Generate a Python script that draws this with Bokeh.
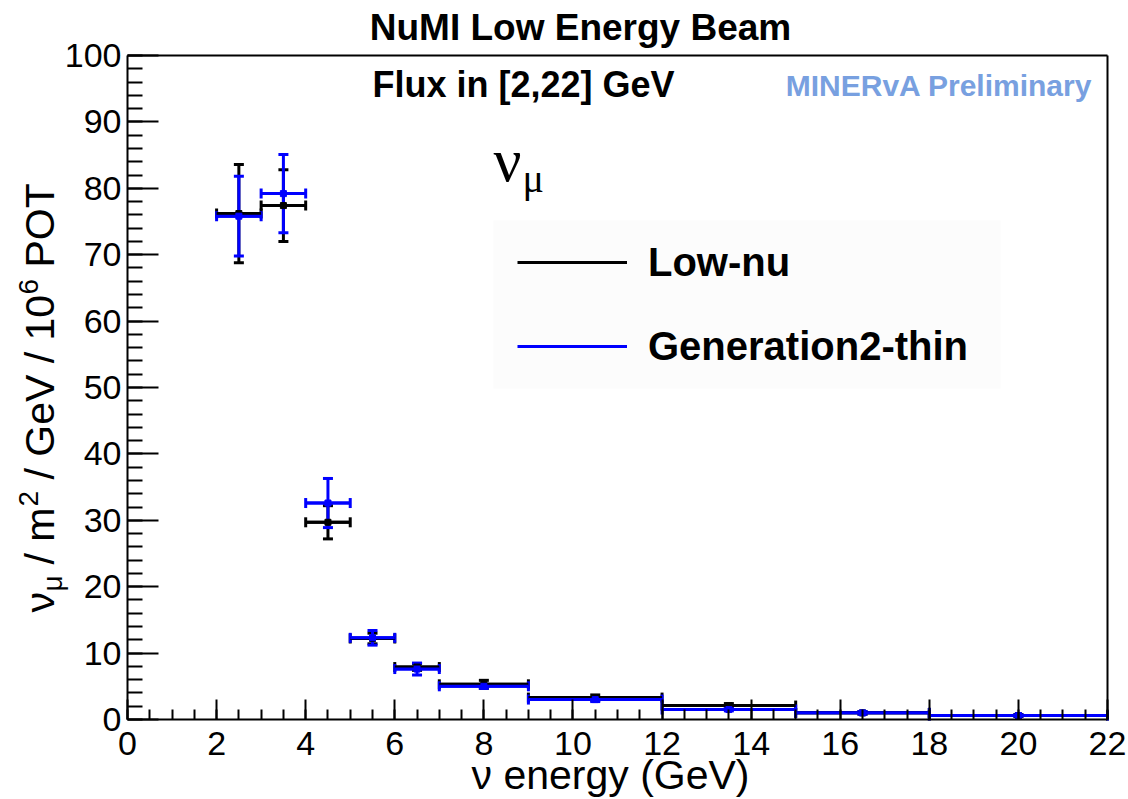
import math
from bokeh.plotting import figure
from bokeh.models import (Range1d, SingleIntervalTicker, FixedTicker, LinearAxis,
                          Whisker, TeeHead, ColumnDataSource, Label, Legend,
                          LegendItem, BoxAnnotation)
from bokeh.embed import file_html
from bokeh.resources import INLINE

# ---------------- data ----------------
bin_low = [2, 3, 4, 5, 6, 7, 9, 12, 15, 18]
bin_high = [3, 4, 5, 6, 7, 9, 12, 15, 18, 22]
lownu_flux = [76.2, 77.4, 29.7, 12.2, 7.9, 5.3, 3.3, 2.1, 1.0, 0.6]
lownu_err = [7.4, 5.4, 2.5, 0.8, 0.5, 0.6, 0.4, 0.3, 0.2, 0.15]
gen2_flux = [75.8, 79.2, 32.6, 12.3, 7.6, 5.0, 3.0, 1.5, 1.0, 0.6]
gen2_err = [6.0, 5.9, 3.7, 1.1, 0.9, 0.3, 0.3, 0.2, 0.2, 0.1]
series_names = ["Low-nu", "Generation2-thin"]
series_colors = ["#000000", "#0000ff"]

FONT = "Liberation Sans"
W, H = 1128, 799

# plotting box in pixels (layout)
FL, FR, FT, FB = 127, 1107, 55, 719
XMAX, YMAX = 22, 100


def X(px):
    return (px - FL) / (FR - FL) * XMAX


def Y(py):
    return (FB - py) / (FB - FT) * YMAX


p = figure(width=W, height=H, output_backend="svg", toolbar_location=None,
           x_range=Range1d(X(0), X(W)), y_range=Range1d(Y(H), Y(0)),
           x_axis_location=None, y_axis_location=None, min_border=0)
p.min_border_left = p.min_border_right = p.min_border_top = p.min_border_bottom = 0
p.background_fill_color = "white"
p.border_fill_color = "white"
p.outline_line_color = None
p.xgrid.visible = False
p.ygrid.visible = False


def style_axis(ax):
    ax.axis_line_color = "black"
    ax.axis_line_width = 2
    ax.major_tick_line_color = "black"
    ax.minor_tick_line_color = "black"
    ax.major_tick_line_width = 2
    ax.minor_tick_line_width = 2
    ax.major_tick_out = 0
    ax.minor_tick_out = 0
    ax.major_label_text_font = FONT
    ax.major_label_text_font_size = "34px"
    ax.major_label_text_color = "black"


xaxis = LinearAxis(fixed_location=0, bounds=(0, XMAX),
                   ticker=SingleIntervalTicker(interval=2, num_minor_ticks=4))
yaxis = LinearAxis(fixed_location=0, bounds=(0, YMAX),
                   ticker=SingleIntervalTicker(interval=10, num_minor_ticks=5))
style_axis(xaxis)
style_axis(yaxis)
xaxis.major_tick_in = 20
xaxis.minor_tick_in = 10
yaxis.major_tick_in = 31
yaxis.minor_tick_in = 15
xaxis.major_label_standoff = 12
yaxis.major_label_standoff = 6
p.add_layout(xaxis, "below")
p.add_layout(yaxis, "left")

# top and right frame lines (axes without ticks)
topaxis = LinearAxis(fixed_location=YMAX, bounds=(0, XMAX),
                     ticker=FixedTicker(ticks=[], minor_ticks=[]))
rightaxis = LinearAxis(fixed_location=XMAX, bounds=(0, YMAX),
                       ticker=FixedTicker(ticks=[], minor_ticks=[]))
for ax in (topaxis, rightaxis):
    style_axis(ax)
    ax.major_tick_in = 0
    ax.minor_tick_in = 0
p.add_layout(topaxis, "above")
p.add_layout(rightaxis, "right")

# faint legend background
p.add_layout(BoxAnnotation(left=X(493), right=X(1000), top=Y(220), bottom=Y(388),
                           fill_color="#fcfcfc", fill_alpha=1.0, line_color=None,
                           level="underlay"))

# ---------------- data marks ----------------
legend_items = []
for name, color, flux, err in zip(series_names, series_colors,
                                  [lownu_flux, gen2_flux], [lownu_err, gen2_err]):
    centers = [(a + b) / 2 for a, b in zip(bin_low, bin_high)]
    src = ColumnDataSource(dict(
        lo=bin_low, hi=bin_high, x=centers, y=flux,
        ylo=[f - e for f, e in zip(flux, err)],
        yhi=[f + e for f, e in zip(flux, err)],
    ))
    seg = p.segment(x0="lo", x1="hi", y0="y", y1="y", source=src,
                    line_color=color, line_width=3)
    hw = Whisker(source=src, base="y", lower="lo", upper="hi", dimension="width",
                 line_color=color, line_width=3,
                 lower_head=TeeHead(size=10, line_color=color, line_width=3),
                 upper_head=TeeHead(size=10, line_color=color, line_width=3))
    vw = Whisker(source=src, base="x", lower="ylo", upper="yhi", dimension="height",
                 line_color=color, line_width=3,
                 lower_head=TeeHead(size=10, line_color=color, line_width=3),
                 upper_head=TeeHead(size=10, line_color=color, line_width=3))
    p.add_layout(hw)
    p.add_layout(vw)
    p.scatter(x="x", y="y", source=src, marker="square", size=6,
              fill_color=color, line_color=color)
    legend_items.append(LegendItem(label=name, renderers=[seg]))

legend = Legend(items=legend_items, location=(517, H - 388),
                background_fill_alpha=0.0, border_line_color=None,
                padding=0, margin=0,
                glyph_width=110, glyph_height=84, label_height=84,
                label_standoff=21, spacing=0,
                label_text_font=FONT, label_text_font_style="bold",
                label_text_font_size="40px", label_text_color="black",
                label_text_baseline="middle")
p.add_layout(legend)

# ---------------- texts ----------------
SHIFT = 0.36  # baseline correction (fraction of font size)


def add_label(text, px, py, size, style="normal", align="left", color="black",
              font=FONT, angle=0.0):
    if angle == 0.0:
        py = py - SHIFT * size
    else:
        px = px - SHIFT * size
    p.add_layout(Label(x=X(px), y=Y(py), text=text, text_font=font,
                       text_font_size=f"{size}px", text_font_style=style,
                       text_align=align, text_baseline="alphabetic",
                       text_color=color, angle=angle))


add_label("NuMI Low Energy Beam", 580, 40, 37, "bold", "center")
add_label("Flux in [2,22] GeV", 372, 97, 36, "bold")
add_label("MINERvA Preliminary", 1092, 96, 30, "bold", "right", "#78a0e0")
add_label("ν", 493, 182, 62, font="Liberation Serif")
add_label("μ", 522, 192, 40, font="Liberation Serif")

# x axis title
add_label("ν energy (GeV)", 610, 789, 41, align="center")

# y axis title, rotated, pieces for sub/superscripts
R = math.pi / 2
BX = 54
add_label("ν", BX, 612, 41, angle=R)
add_label("μ", BX + 8, 591, 28, angle=R)
add_label("/ m", BX, 564, 41, angle=R)
add_label("2", BX - 16, 506, 28, angle=R)
add_label("/ GeV / 10", BX, 479, 41, angle=R)
add_label("6", BX - 16, 294, 28, angle=R)
add_label("POT", BX, 267, 41, angle=R)

open("out.html", "w").write(file_html(p, INLINE))
